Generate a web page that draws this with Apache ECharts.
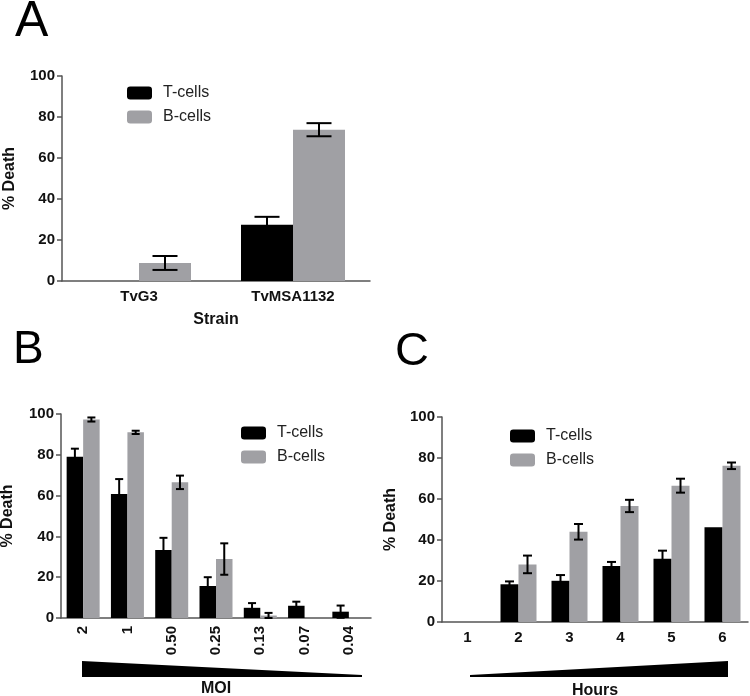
<!DOCTYPE html>
<html>
<head>
<meta charset="utf-8">
<script src="https://cdn.jsdelivr.net/npm/echarts@6/dist/echarts.min.js"></script>
<style>html,body{margin:0;padding:0;background:#fff}#c{width:750px;height:696px}</style>
</head>
<body>
<div id="c"></div>
<script>
// Panel A
var catsA = ['TvG3', 'TvMSA1132'];
var aT = [0, 27.5];
var aTerr = [0, 3.8];
var aB = [8.8, 73.8];
var aBerr = [3.4, 3.2];
// Panel B
var catsB = ['2', '1', '0.50', '0.25', '0.13', '0.07', '0.04'];
var bT = [79, 60.8, 33.3, 15.7, 5, 6, 3.1];
var bTerr = [4, 7.3, 6, 4.3, 2.3, 2, 3];
var bB = [97.3, 91, 66.5, 28.9, 1.2, 0, 0];
var bBerr = [1, 0.8, 3.3, 7.7, 1.3, 0, 0];
// Panel C
var catsC = ['1', '2', '3', '4', '5', '6'];
var cT = [0, 18.4, 20.1, 27.3, 30.9, 46.2];
var cTerr = [0, 1.4, 2.8, 2, 3.9, 0];
var cB = [0, 28.1, 44, 56.6, 66.5, 76.2];
var cBerr = [0, 4.3, 3.8, 3, 3.4, 1.6];
var yTicks = [0, 20, 40, 60, 80, 100];

var FONT = '"Liberation Sans", Arial, sans-serif';
var BLACK = '#000000', GRAY = '#a0a0a4', AXIS = '#555555';

function errData(vals, errs) {
  return vals.map(function (v, i) { return [i, v, errs[i]]; });
}
function errItem(sign, bw, cap) {
  return function (params, api) {
    var i = api.value(0), v = api.value(1), e = api.value(2);
    if (!e) return null;
    var c = api.coord([i, v]);
    var x = c[0] + sign * bw / 2;
    var top = api.coord([i, v + e])[1];
    var bot = api.coord([i, Math.max(0, v - e)])[1];
    var st = { stroke: '#000', lineWidth: 2 };
    return {
      type: 'group', children: [
        { type: 'line', shape: { x1: x, y1: top, x2: x, y2: bot }, style: st },
        { type: 'line', shape: { x1: x - cap / 2, y1: top, x2: x + cap / 2, y2: top }, style: st },
        { type: 'line', shape: { x1: x - cap / 2, y1: bot, x2: x + cap / 2, y2: bot }, style: st }
      ]
    };
  };
}
function xAx(idx, cats, name, gap, rotate) {
  return {
    type: 'category', gridIndex: idx, data: cats,
    axisLine: { lineStyle: { color: AXIS, width: 1.5 } },
    axisTick: { alignWithLabel: true, length: 5, lineStyle: { color: AXIS, width: 1.5 } },
    axisLabel: { fontFamily: FONT, fontWeight: 'bold', fontSize: 15, color: '#111', margin: 8, rotate: rotate || 0, interval: 0 },
    name: name, nameLocation: 'middle', nameGap: gap,
    nameTextStyle: { fontFamily: FONT, fontWeight: 'bold', fontSize: 16, color: '#111' }
  };
}
function yAx(idx, gap) {
  return {
    type: 'value', gridIndex: idx, min: yTicks[0], max: yTicks[yTicks.length - 1], interval: 20,
    axisLine: { show: true, lineStyle: { color: AXIS, width: 1.5 } },
    axisTick: { show: true, length: 5, lineStyle: { color: AXIS, width: 1.5 } },
    splitLine: { show: false },
    axisLabel: { fontFamily: FONT, fontWeight: 'bold', fontSize: 15, color: '#111', margin: 7 },
    name: '% Death', nameLocation: 'middle', nameGap: gap,
    nameTextStyle: { fontFamily: FONT, fontWeight: 'bold', fontSize: 16, color: '#111' }
  };
}
function legend(left, top) {
  return {
    left: left, top: top, orient: 'vertical', padding: 0, itemWidth: 25, itemHeight: 13, itemGap: 8,
    icon: 'roundRect', selectedMode: false, data: ['T-cells', 'B-cells'],
    textStyle: { fontFamily: FONT, fontSize: 16, color: '#222', padding: [0, 0, 0, 6] }
  };
}
function bars(idx, tv, bv, te, be, bw, cap) {
  return [
    { name: 'T-cells', type: 'bar', xAxisIndex: idx, yAxisIndex: idx, data: tv, barWidth: bw, barGap: '0%', itemStyle: { color: BLACK } },
    { name: 'B-cells', type: 'bar', xAxisIndex: idx, yAxisIndex: idx, data: bv, barWidth: bw, barGap: '0%', itemStyle: { color: GRAY } },
    { name: 'errT' + idx, type: 'custom', xAxisIndex: idx, yAxisIndex: idx, z: 5, data: errData(tv, te), encode: { x: 0, y: 1 }, renderItem: errItem(-1, bw, cap) },
    { name: 'errB' + idx, type: 'custom', xAxisIndex: idx, yAxisIndex: idx, z: 5, data: errData(bv, be), encode: { x: 0, y: 1 }, renderItem: errItem(1, bw, cap) }
  ];
}

var chart = echarts.init(document.getElementById('c'), null, { renderer: 'canvas' });
chart.setOption({
  animation: false,
  color: [BLACK, GRAY],
  grid: [
    { left: 62, top: 76, width: 308, height: 205, outerBoundsMode: 'none', containLabel: false },
    { left: 61, top: 414, width: 310, height: 204, outerBoundsMode: 'none', containLabel: false },
    { left: 442, top: 417, width: 306, height: 205, outerBoundsMode: 'none', containLabel: false }
  ],
  xAxis: [xAx(0, catsA, 'Strain', 31), xAx(1, catsB, 'MOI', 63, 90), xAx(2, catsC, 'Hours', 61)],
  yAxis: [yAx(0, 44), yAx(1, 45), yAx(2, 43)],
  legend: [legend(127, 85), legend(241, 425), legend(510, 428)],
  series: [].concat(
    bars(0, aT, aB, aTerr, aBerr, 52, 25),
    bars(1, bT, bB, bTerr, bBerr, 16.5, 8),
    bars(2, cT, cB, cTerr, cBerr, 18, 9)
  ),
  graphic: [
    { type: 'text', left: 15, top: -3, style: { text: 'A', font: '50px ' + FONT, fill: '#000' } },
    { type: 'text', left: 13, top: 327, style: { text: 'B', font: '46px ' + FONT, fill: '#000' } },
    { type: 'text', left: 395, top: 329, style: { text: 'C', font: '47px ' + FONT, fill: '#000' } },
    { type: 'polygon', shape: { points: [[82, 661], [362, 675], [362, 677], [82, 677]] }, style: { fill: '#000' } },
    { type: 'polygon', shape: { points: [[470, 675], [728, 661], [728, 677], [470, 677]] }, style: { fill: '#000' } }
  ]
});
</script>
</body>
</html>
